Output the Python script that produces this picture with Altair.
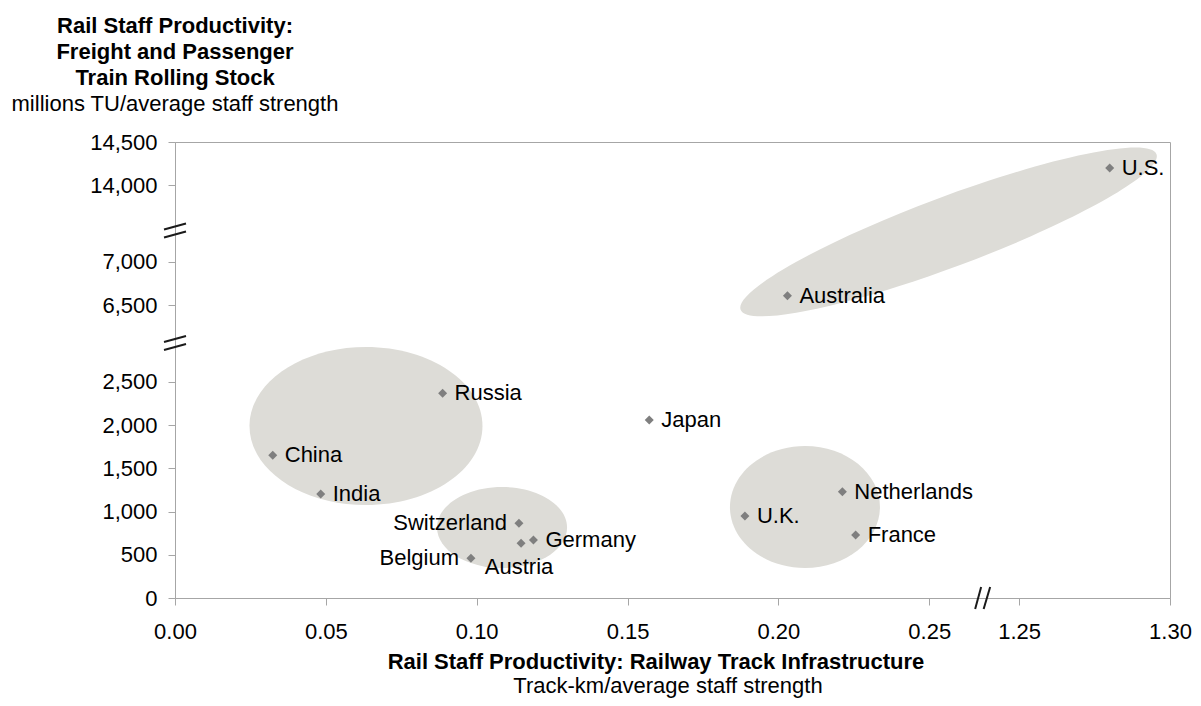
import altair as alt
import pandas as pd

# ---------------- data ----------------
countries = ["U.S.", "Australia", "Russia", "Japan", "China", "India",
             "Switzerland", "Austria", "Germany", "Belgium", "U.K.",
             "Netherlands", "France"]
track_km_per_staff = [1.280, 0.203, 0.0887, 0.1572, 0.0324, 0.0483,
                      0.1140, 0.1147, 0.1188, 0.0981, 0.1889, 0.2212, 0.2256]
tu_per_staff = [14200, 6610, 2368, 2059, 1651, 1203,
                864, 633, 671, 459, 949, 1230, 729]

x_tick_values = [0.00, 0.05, 0.10, 0.15, 0.20, 0.25, 1.25, 1.30]
y_tick_values = [0, 500, 1000, 1500, 2000, 2500, 6500, 7000, 14000, 14500]

left_labels = ["Switzerland", "Belgium"]
below_labels = ["Austria"]

# ---------------- broken axes ----------------
X_SEGMENTS = [(0.0, 0.25), (1.25, 1.30)]
X_GAP = 0.0298
Y_SEGMENTS = [(0, 2500), (6500, 7000), (14000, 14500)]
Y_GAP = 888


def make_map(segments, gap):
    offsets = []
    off = 0.0
    for lo, hi in segments:
        offsets.append(off - lo)
        off += (hi - lo) + gap

    def f(v):
        idx = 0
        for i, (lo, hi) in enumerate(segments):
            if v >= lo - 1e-9:
                idx = i
        return v + offsets[idx]
    return f, offsets


fx, x_offs = make_map(X_SEGMENTS, X_GAP)
fy, y_offs = make_map(Y_SEGMENTS, Y_GAP)

X_MAX = fx(X_SEGMENTS[-1][1])
Y_MAX = fy(Y_SEGMENTS[-1][1])

df = pd.DataFrame({
    "country": countries,
    "x": track_km_per_staff,
    "y": tu_per_staff,
})
df["u"] = [fx(v) for v in df["x"]]
df["v"] = [fy(v) for v in df["y"]]

x_axis_vals = [round(fx(v), 6) for v in x_tick_values]
y_axis_vals = [round(fy(v), 6) for v in y_tick_values]

x_label_expr = (f"datum.value < {fx(X_SEGMENTS[0][1]) + X_GAP / 2} ? format(datum.value, '.2f') : "
                f"format(datum.value - ({x_offs[1]}), '.2f')")
y_b1 = fy(Y_SEGMENTS[0][1]) + Y_GAP / 2
y_b2 = fy(Y_SEGMENTS[1][1]) + Y_GAP / 2
y_label_expr = (f"datum.value < {y_b1} ? format(datum.value, ',') : "
                f"datum.value < {y_b2} ? format(datum.value - ({y_offs[1]}), ',') : "
                f"format(datum.value - ({y_offs[2]}), ',')")

FONT = "Liberation Sans"
AXIS_GREY = "#a6a6a6"
FS = 22

xscale = alt.Scale(domain=[0, X_MAX], nice=False, zero=False)
yscale = alt.Scale(domain=[0, Y_MAX], nice=False, zero=False)
xaxis = alt.Axis(values=x_axis_vals, labelExpr=x_label_expr, title=None, grid=False,
                 domainColor=AXIS_GREY, tickColor=AXIS_GREY, tickSize=7,
                 labelFontSize=FS, labelFont=FONT, labelColor="#000000",
                 labelPadding=16, labelFlush=False, labelOverlap=False)
yaxis = alt.Axis(values=y_axis_vals, labelExpr=y_label_expr, title=None, grid=False,
                 domainColor=AXIS_GREY, tickColor=AXIS_GREY, tickSize=7,
                 labelFontSize=FS, labelFont=FONT, labelColor="#000000",
                 labelPadding=11, labelFlush=False, labelOverlap=False)


def X(field=None, datum=None):
    if datum is not None:
        return alt.X(datum=datum, type="quantitative", scale=xscale, axis=xaxis)
    return alt.X(field, type="quantitative", scale=xscale, axis=xaxis)


def Y(field=None, datum=None):
    if datum is not None:
        return alt.Y(datum=datum, type="quantitative", scale=yscale, axis=yaxis)
    return alt.Y(field, type="quantitative", scale=yscale, axis=yaxis)


one = pd.DataFrame({"k": [0]})

# ---------------- ellipses (decoration) ----------------
def ellipse_path(ratio):
    k = 0.5523
    r = ratio
    return (f"M -1 0 C -1 {-k*r:.4f} {-k:.4f} {-r:.4f} 0 {-r:.4f} "
            f"C {k:.4f} {-r:.4f} 1 {-k*r:.4f} 1 0 "
            f"C 1 {k*r:.4f} {k:.4f} {r:.4f} 0 {r:.4f} "
            f"C {-k:.4f} {r:.4f} -1 {k*r:.4f} -1 0 Z")


ELLIPSE_FILL = "#dddcd7"


def ellipse(cu, cv, w, h, angle=0):
    return alt.Chart(one).mark_point(
        shape=ellipse_path(h / w), size=w * w, angle=angle, filled=True,
        fill=ELLIPSE_FILL, opacity=1, strokeWidth=0
    ).encode(x=X(datum=cu), y=Y(datum=cv))


ellipses = [
    ellipse(0.0633, 1990, 233, 158),
    ellipse(0.1084, 816, 130, 81),
    ellipse(0.2088, 1053, 150, 122),
    ellipse(0.2564, 4235, 444, 70, angle=339.5),
]

# ---------------- break marks ----------------
def slash(cu, cv, dx1, dy1, dx2, dy2):
    return alt.Chart(one).mark_rule(
        color="#1a1a1a", strokeWidth=2, xOffset=dx1, yOffset=dy1,
        x2Offset=dx2, y2Offset=dy2
    ).encode(x=X(datum=cu), x2=alt.X2(datum=cu), y=Y(datum=cv), y2=alt.Y2(datum=cv))


# break positions on the axes (scale units)
Y_BREAKS = [2950, 4252]
X_BREAK = 0.2677
breaks = []
for yb in Y_BREAKS:
    breaks.append(slash(0, yb, -11, -1, 11, -7))
    breaks.append(slash(0, yb, -11, 7, 11, 1))
breaks.append(slash(X_BREAK, 0, -7.5, 11, -1.5, -11))
breaks.append(slash(X_BREAK, 0, 1, 11, 7.5, -11))

# ---------------- points and labels ----------------
base = alt.Chart(df)
points = base.mark_point(shape="diamond", filled=True, size=81,
                         color="#7f7f7f", opacity=1).encode(x=X("u"), y=Y("v"))

right = ~(alt.FieldOneOfPredicate(field="country", oneOf=left_labels + below_labels))
lab_right = base.transform_filter(right).mark_text(
    align="left", baseline="middle", dx=12, fontSize=FS, font=FONT, color="#000"
).encode(x=X("u"), y=Y("v"), text="country")
lab_left = base.transform_filter(
    alt.FieldOneOfPredicate(field="country", oneOf=left_labels)).mark_text(
    align="right", baseline="middle", dx=-12, fontSize=FS, font=FONT, color="#000"
).encode(x=X("u"), y=Y("v"), text="country")
lab_below = base.transform_filter(
    alt.FieldOneOfPredicate(field="country", oneOf=below_labels)).mark_text(
    align="center", baseline="middle", dx=-2, dy=24, fontSize=FS, font=FONT, color="#000"
).encode(x=X("u"), y=Y("v"), text="country")

# ---------------- axis titles ----------------
def txt(s, px, py, bold=False, baseline="alphabetic"):
    return alt.Chart(one).mark_text(
        text=s, align="center", baseline=baseline, fontSize=FS, font=FONT,
        fontWeight="bold" if bold else "normal", color="#000"
    ).encode(x=alt.value(px), y=alt.value(py))


titles = [
    txt("Rail Staff Productivity:", 0, -109, True),
    txt("Freight and Passenger", 0, -83, True),
    txt("Train Rolling Stock", 0, -57, True),
    txt("millions TU/average  staff strength", 0, -31),
    txt("Rail Staff Productivity: Railway Track Infrastructure", 481, 520, True, "middle"),
    txt("Track-km/average staff strength", 493, 544, False, "middle"),
]

chart = alt.layer(*ellipses, *breaks, points, lab_right, lab_left, lab_below, *titles).properties(
    width=995, height=456,
    autosize=alt.AutoSizeParams(type="none"),
    padding={"left": 167, "top": 134, "right": 23, "bottom": 100},
).configure_view(stroke=AXIS_GREY, strokeWidth=1)

chart.save("out.html", embed_options={"renderer": "svg", "actions": False})
